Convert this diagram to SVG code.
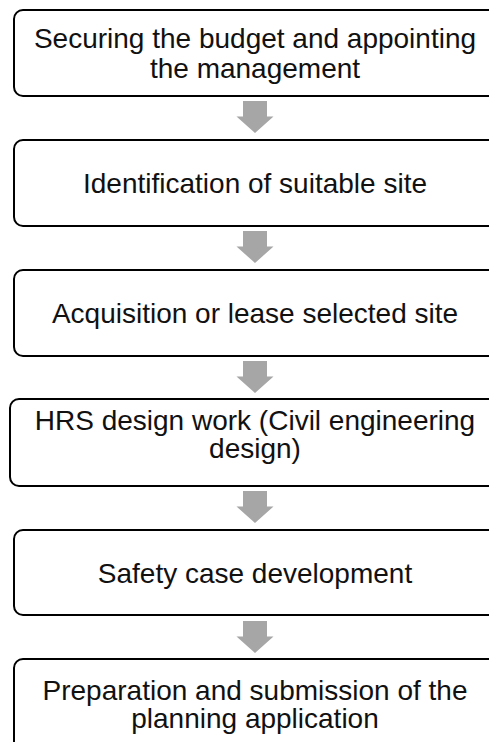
<svg xmlns="http://www.w3.org/2000/svg" width="489" height="742" viewBox="0 0 489 742">
<defs>
<style>
.box{fill:#ffffff;stroke:#000000;stroke-width:2}
.lbl{font-family:"Liberation Sans",Arial,sans-serif;font-size:28px;fill:#111111;text-anchor:middle}
.arr{fill:#a6a6a6}
</style>
<path id="arrowShape" class="arr" d="M-12,0 H12 V15.5 H18.5 L0,32 L-18.5,15.5 H-12 Z"/>
</defs>
<rect width="489" height="742" fill="#ffffff"/>
<g id="connectors">
<use href="#arrowShape" x="255" y="101"/>
<use href="#arrowShape" x="255" y="231"/>
<use href="#arrowShape" x="255" y="361"/>
<use href="#arrowShape" x="255" y="491"/>
<use href="#arrowShape" x="255" y="621"/>
</g>
<g id="n1">
<rect class="box" x="14" y="10" width="490" height="86" rx="9"/>
<text class="lbl" x="255" y="48">Securing the budget and appointing</text>
<text class="lbl" x="255" y="77.5">the management</text>
</g>
<g id="n2">
<rect class="box" x="14" y="140" width="490" height="86" rx="9"/>
<text class="lbl" x="255" y="193">Identification of suitable site</text>
</g>
<g id="n3">
<rect class="box" x="14" y="270" width="490" height="86" rx="9"/>
<text class="lbl" x="255" y="323">Acquisition or lease selected site</text>
</g>
<g id="n4">
<rect class="box" x="10" y="399" width="490" height="87" rx="9"/>
<text class="lbl" x="255" y="430">HRS design work (Civil engineering</text>
<text class="lbl" x="255" y="458">design)</text>
</g>
<g id="n5">
<rect class="box" x="14" y="530" width="490" height="85" rx="9"/>
<text class="lbl" x="255" y="582.5">Safety case development</text>
</g>
<g id="n6">
<rect class="box" x="14" y="659" width="490" height="100" rx="9"/>
<text class="lbl" x="255" y="700">Preparation and submission of the</text>
<text class="lbl" x="255" y="728">planning application</text>
</g>
</svg>
